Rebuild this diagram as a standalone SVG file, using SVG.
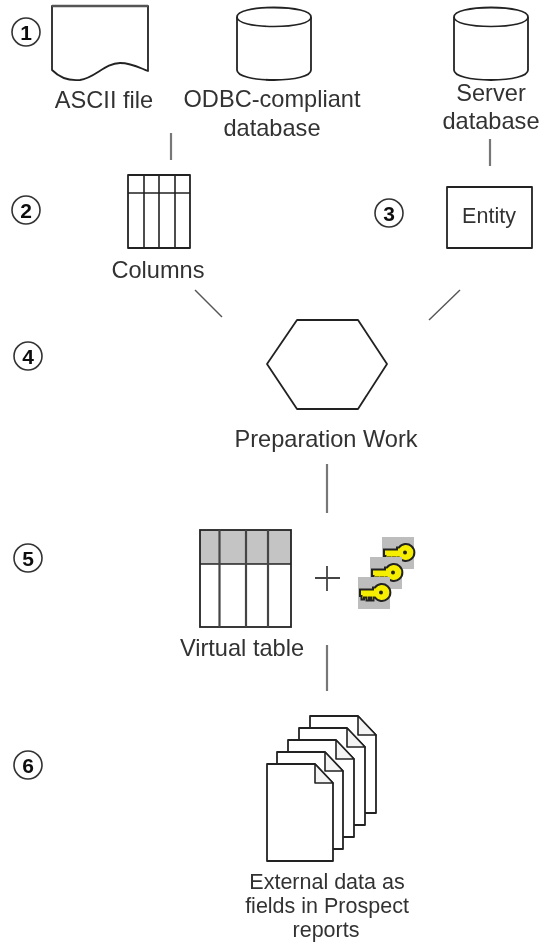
<svg xmlns="http://www.w3.org/2000/svg" width="545" height="945" viewBox="0 0 545 945">
<style>
text{font-family:"Liberation Sans",Arial,sans-serif;fill:#333;text-anchor:middle;font-size:23.6px}
.m{font-size:21.500px}
.s{fill:#fff;stroke:#222;stroke-width:1.800;stroke-linejoin:round}
.g{fill:none;stroke:#222;stroke-width:1.600}
.c{fill:none;stroke:#777;stroke-width:2.200}
.d{fill:none;stroke:#555;stroke-width:1.400}
.n{fill:#fff;stroke:#333;stroke-width:1.600}
.nt{font-size:21px;font-weight:bold;fill:#111}
</style>
<defs>
<filter id="soft" x="0" y="0" width="545" height="945" filterUnits="userSpaceOnUse"><feGaussianBlur stdDeviation="0.500"/></filter>
<g id="cyl"><path class="s" d="M0 11C0 5 16 1.500 37 1.500S74 5 74 11V64C74 70 58 74 37 74S0 70 0 64Z"/><path class="g" d="M0 11C0 17 16 20.500 37 20.500S74 17 74 11"/></g>
<g id="key"><rect width="32" height="32" fill="#bdbdbd"/><path d="M2 12.500H15V10.500H17A8.500 8.500 0 1 1 17 20.500H15.500V23.500H13V20.500H11V23.500H8.500V20.500H6V22.500H3.500V19H2Z" fill="#f5ee00" stroke="#222" stroke-width="2"/><circle cx="23" cy="15.500" r="2" fill="#222"/></g>
<g id="doc"><path class="s" d="M0 0H48L66 19V97H0Z"/><path d="M48 0V19H66Z" fill="#f4f4f4" stroke="#222" stroke-width="1.600" stroke-linejoin="round"/></g>
</defs>
<g filter="url(#soft)">
<g id="connectors">
<line class="c" x1="171" y1="133" x2="171" y2="160"/>
<line class="c" x1="490" y1="139" x2="490" y2="166"/>
<line class="d" x1="195" y1="290" x2="222" y2="317"/>
<line class="d" x1="460" y1="290" x2="429" y2="320"/>
<line class="c" x1="327" y1="464" x2="327" y2="513"/>
<line class="c" x1="327" y1="645" x2="327" y2="691"/>
</g>
<g id="step1"><circle class="n" cx="26" cy="32" r="14"/><text class="nt" x="26" y="39.500">1</text></g>
<g id="step2"><circle class="n" cx="26" cy="210" r="14"/><text class="nt" x="26" y="217.500">2</text></g>
<g id="step3"><circle class="n" cx="389" cy="213" r="14"/><text class="nt" x="389" y="220.500">3</text></g>
<g id="step4"><circle class="n" cx="28" cy="356" r="14"/><text class="nt" x="28" y="363.500">4</text></g>
<g id="step5"><circle class="n" cx="28" cy="558" r="14"/><text class="nt" x="28" y="565.500">5</text></g>
<g id="step6"><circle class="n" cx="28" cy="765" r="14"/><text class="nt" x="28" y="772.500">6</text></g>
<g id="ascii-file"><path class="s" d="M52 6H148V71C140 68 132 63 120 63C105 63 95 78 80 80C70 81 60 78 52 70Z"/><path d="M52 6H148" stroke="#555" stroke-width="2.500"/><text x="104" y="108">ASCII file</text></g>
<g id="odbc-database"><use href="#cyl" x="237" y="6"/><text x="272" y="107">ODBC-compliant</text><text x="272" y="136">database</text></g>
<g id="server-database"><use href="#cyl" x="454" y="6"/><text x="491" y="101">Server</text><text x="491" y="129">database</text></g>
<g id="columns"><rect class="s" x="128" y="175" width="62" height="73"/><path class="g" d="M128 193H190M144 175V248M159 175V248M175 175V248"/><text x="158" y="278">Columns</text></g>
<g id="entity"><rect class="s" x="447" y="187" width="85" height="61"/><text class="m" x="489" y="223">Entity</text></g>
<g id="preparation-work"><path class="s" d="M297 320H358L387 364L358 409H297L267 364Z"/><text x="326" y="447">Preparation Work</text></g>
<g id="virtual-table"><rect x="200" y="530" width="91" height="34" fill="#c4c4c4"/><rect x="200" y="530" width="91" height="97" fill="none" stroke="#222" stroke-width="1.800"/><path class="g" d="M200 564H291"/><path d="M219.500 530V627M246 530V627M268 530V627" fill="none" stroke="#444" stroke-width="2.200"/><text x="242" y="656">Virtual table</text></g>
<g id="plus"><path d="M315 578H340M327 566V591" fill="none" stroke="#444" stroke-width="1.800"/></g>
<g id="keys"><use href="#key" x="382" y="537"/><use href="#key" x="370" y="557"/><use href="#key" x="358" y="577"/></g>
<g id="reports"><use href="#doc" x="310" y="716"/><use href="#doc" x="299" y="728"/><use href="#doc" x="288" y="740"/><use href="#doc" x="277" y="752"/><use href="#doc" x="267" y="764"/><text class="m" x="327" y="889">External data as</text><text class="m" x="327" y="913">fields in Prospect</text><text class="m" x="326" y="937">reports</text></g>
</g>
</svg>
